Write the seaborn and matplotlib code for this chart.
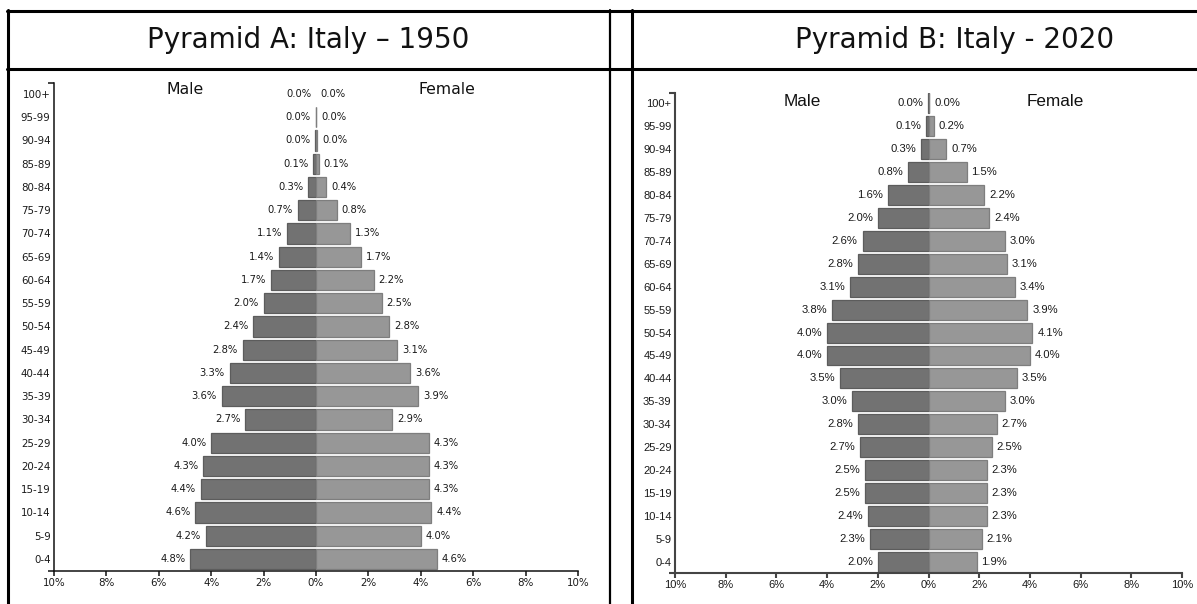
import matplotlib
matplotlib.use("Agg")
import matplotlib.pyplot as plt
from matplotlib.lines import Line2D
import seaborn as sns
import pandas as pd

# ---------------- data ----------------
ages = ["100+", "95-99", "90-94", "85-89", "80-84", "75-79", "70-74", "65-69",
        "60-64", "55-59", "50-54", "45-49", "40-44", "35-39", "30-34", "25-29",
        "20-24", "15-19", "10-14", "5-9", "0-4"]

male_1950 = [0.0, 0.01, 0.04, 0.1, 0.3, 0.7, 1.1, 1.4, 1.7, 2.0, 2.4, 2.8, 3.3,
             3.6, 2.7, 4.0, 4.3, 4.4, 4.6, 4.2, 4.8]
female_1950 = [0.0, 0.01, 0.04, 0.1, 0.4, 0.8, 1.3, 1.7, 2.2, 2.5, 2.8, 3.1, 3.6,
               3.9, 2.9, 4.3, 4.3, 4.3, 4.4, 4.0, 4.6]

male_2020 = [0.02, 0.1, 0.3, 0.8, 1.6, 2.0, 2.6, 2.8, 3.1, 3.8, 4.0, 4.0, 3.5,
             3.0, 2.8, 2.7, 2.5, 2.5, 2.4, 2.3, 2.0]
female_2020 = [0.03, 0.2, 0.7, 1.5, 2.2, 2.4, 3.0, 3.1, 3.4, 3.9, 4.1, 4.0, 3.5,
               3.0, 2.7, 2.5, 2.3, 2.3, 2.3, 2.1, 1.9]

x_ticks = [-10, -8, -6, -4, -2, 0, 2, 4, 6, 8, 10]
x_tick_labels = ["10%", "8%", "6%", "4%", "2%", "0%", "2%", "4%", "6%", "8%", "10%"]

title_a = "Pyramid A: Italy \u2013 1950"
title_b = "Pyramid B: Italy - 2020"

# ---------------- figure ----------------
sns.set_style("white")
W, H = 1197, 604
fig = plt.figure(figsize=(W / 100, H / 100), dpi=100)
fig.patch.set_facecolor("white")

MALE_C, MALE_E = "#727272", "#5c5c5c"
FEM_C, FEM_E = "#979797", "#7e7e7e"


def px_axes(l, t, r, b):
    return fig.add_axes([l / W, 1 - b / H, (r - l) / W, (b - t) / H])


def draw_pyramid(ax, male, female, font, fs_lab, fs_tick, ylim, spine_c, spine_w):
    df = pd.DataFrame({"age": ages, "male": [-v for v in male], "female": female})
    sns.barplot(data=df, x="male", y="age", order=ages, orient="h", color=MALE_C,
                saturation=1, width=0.87, edgecolor=MALE_E, linewidth=0.9, ax=ax)
    sns.barplot(data=df, x="female", y="age", order=ages, orient="h", color=FEM_C,
                saturation=1, width=0.87, edgecolor=FEM_E, linewidth=0.9, ax=ax)
    for p in ax.patches:
        if p.get_width() == 0:
            p.set_linewidth(0)
    ax.set_xlim(-10, 10)
    ax.set_ylim(*ylim)
    ax.set_xlabel("")
    ax.set_ylabel("")
    for i, (m, f) in enumerate(zip(male, female)):
        ax.annotate(f"{m:.1f}%", xy=(-m, i), xytext=(-3.5, 0), textcoords="offset points",
                    ha="right", va="center", fontsize=fs_lab, family=font, color="#1a1a1a")
        ax.annotate(f"{f:.1f}%", xy=(f, i), xytext=(3.5, 0), textcoords="offset points",
                    ha="left", va="center", fontsize=fs_lab, family=font, color="#1a1a1a")
    ax.set_xticks(x_ticks)
    ax.set_xticklabels(x_tick_labels, family=font, fontsize=fs_tick, color="#1a1a1a")
    ax.set_yticks(range(len(ages)))
    ax.set_yticklabels(ages, family=font, fontsize=fs_tick, color="#1a1a1a")
    ax.set_yticks(list(ylim), minor=True)
    ax.tick_params(axis="y", which="major", length=0, pad=2.5)
    ax.tick_params(axis="y", which="minor", length=4.5, width=spine_w, color=spine_c,
                   direction="out", left=True)
    ax.tick_params(axis="x", which="major", length=3.5, width=spine_w, color=spine_c,
                   direction="out", bottom=True, pad=1.5)
    for s in ["top", "right"]:
        ax.spines[s].set_visible(False)
    for s in ["left", "bottom"]:
        ax.spines[s].set_color(spine_c)
        ax.spines[s].set_linewidth(spine_w)
    ax.set_facecolor("none")


# left pyramid (1950)
axA = px_axes(54, 83, 578, 571)
draw_pyramid(axA, male_1950, female_1950, "DejaVu Sans", 7.2, 7.4, (20.52, -0.47),
             "#111111", 1.1)
# right pyramid (2020)
axB = px_axes(675, 93, 1182, 573)
draw_pyramid(axB, male_2020, female_2020, "Liberation Sans", 8.1, 8.0, (20.48, -0.44),
             "#444444", 1.5)

# Male / Female labels
fig.text(185 / W, 1 - 89 / H, "Male", ha="center", va="center", family="DejaVu Sans",
         fontsize=11.3, color="#111111")
fig.text(447 / W, 1 - 89 / H, "Female", ha="center", va="center", family="DejaVu Sans",
         fontsize=11.3, color="#111111")
fig.text(802 / W, 1 - 102 / H, "Male", ha="center", va="center", family="Liberation Sans",
         fontsize=12.3, color="#111111")
fig.text(1055 / W, 1 - 102 / H, "Female", ha="center", va="center", family="Liberation Sans",
         fontsize=12.3, color="#111111")

# table headers
fig.text(308 / W, 1 - 40 / H, title_a, ha="center", va="center", family="DejaVu Sans",
         fontsize=20, color="#111111")
fig.text(955 / W, 1 - 40 / H, title_b, ha="center", va="center", family="DejaVu Sans",
         fontsize=20, color="#111111")


def hline(y, x0, x1, lw=2.2):
    fig.add_artist(Line2D([x0 / W, x1 / W], [1 - y / H, 1 - y / H],
                          transform=fig.transFigure, color="black", lw=lw))


def vline(x, y0, y1, lw=1.6):
    fig.add_artist(Line2D([x / W, x / W], [1 - y0 / H, 1 - y1 / H],
                          transform=fig.transFigure, color="black", lw=lw))


hline(11, 7, W)
hline(69, 7, W)
vline(8, 10, H, lw=2.2)
vline(610, 10, H)
vline(632, 10, H, lw=2.2)

fig.savefig("out.png", dpi=100, facecolor="white")
